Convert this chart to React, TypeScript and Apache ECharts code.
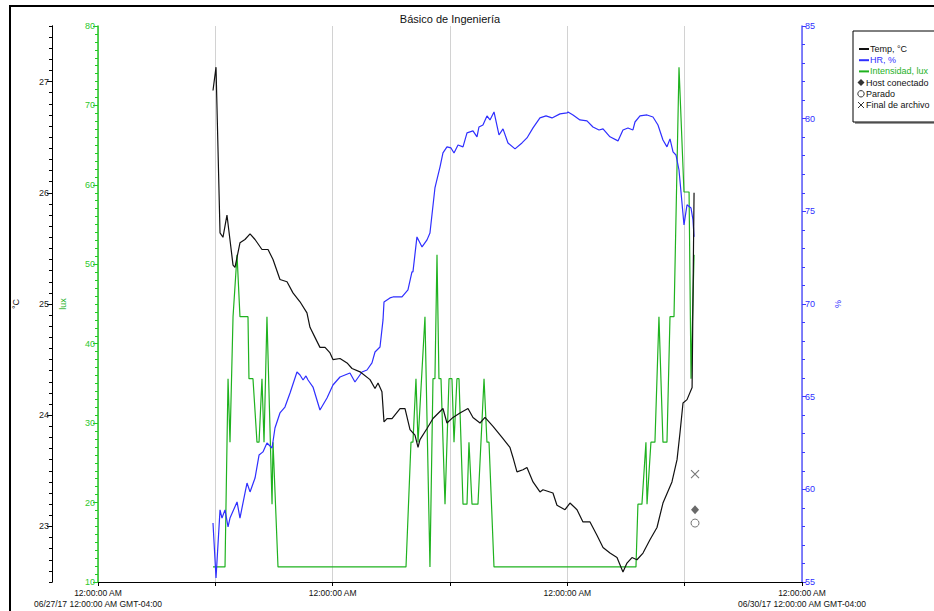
import React, { useEffect, useRef } from 'react';
import * as echarts from 'echarts';

const TITLE = 'Básico de Ingeniería';
const X_TICK_LABEL = '12:00:00 AM';
const X_START_LABEL = '06/27/17 12:00:00 AM GMT-04:00';
const X_END_LABEL = '06/30/17 12:00:00 AM GMT-04:00';
const TEMP_NAME = '°C';
const LUX_NAME = 'lux';
const HR_NAME = '%';

// time: hours since 06/27/17 12:00:00 AM
const tempData: [number, number][] = [
  [11.76, 26.92], [12.07, 27.13], [12.48, 25.64], [12.78, 25.60], [13.19, 25.80], [13.81, 25.35],
  [14.01, 25.33], [14.52, 25.55], [15.03, 25.58], [15.55, 25.63], [16.06, 25.58], [16.77, 25.49],
  [17.39, 25.49], [17.90, 25.40], [18.61, 25.22], [19.33, 25.20], [19.94, 25.10], [20.66, 25.02],
  [21.37, 24.92], [21.68, 24.79], [22.19, 24.70], [22.70, 24.61], [23.22, 24.61], [23.73, 24.56],
  [24.03, 24.50], [24.75, 24.51], [25.47, 24.47], [25.98, 24.42], [26.80, 24.39], [27.82, 24.32],
  [28.33, 24.24], [28.64, 24.29], [29.04, 24.21], [29.25, 23.94], [29.56, 23.97], [30.07, 23.97],
  [30.89, 24.06], [31.40, 24.06], [31.91, 23.87], [32.42, 23.82], [32.73, 23.71], [32.93, 23.78],
  [33.65, 23.88], [34.26, 23.97], [35.28, 24.06], [35.69, 23.93], [36.31, 23.98], [37.02, 24.02],
  [37.84, 24.06], [38.35, 23.98], [39.07, 23.93], [39.58, 23.98], [40.40, 23.90], [41.32, 23.80],
  [42.13, 23.71], [42.44, 23.62], [42.85, 23.49], [43.46, 23.51], [43.87, 23.53], [44.49, 23.40],
  [45.20, 23.31], [45.51, 23.33], [46.53, 23.30], [46.94, 23.19], [47.76, 23.15], [48.27, 23.21],
  [48.99, 23.15], [49.60, 23.04], [50.32, 23.04], [51.03, 22.92], [51.65, 22.81], [52.36, 22.76],
  [53.08, 22.72], [53.69, 22.59], [54.10, 22.67], [54.61, 22.72], [55.12, 22.70], [55.74, 22.76],
  [56.45, 22.88], [57.17, 22.99], [57.78, 23.21], [58.70, 23.40], [59.22, 23.60], [59.52, 23.84],
  [59.83, 24.11], [60.24, 24.14], [60.76, 24.25], [60.85, 25.04], [60.96, 26.00],
];

const hrData: [number, number][] = [
  [11.76, 58.18], [12.07, 55.22], [12.48, 58.89], [12.68, 58.45], [12.99, 58.89], [13.30, 57.97],
  [13.50, 58.45], [14.22, 59.32], [14.52, 58.45], [15.03, 59.80], [15.24, 60.34], [15.55, 59.86],
  [16.06, 60.61], [16.47, 61.85], [16.87, 62.02], [17.28, 62.50], [17.80, 62.23], [18.10, 63.31],
  [18.61, 64.12], [19.12, 64.44], [19.64, 65.20], [20.35, 66.33], [20.66, 66.17], [20.97, 65.90],
  [21.27, 66.12], [21.48, 65.90], [21.99, 65.52], [22.70, 64.28], [23.42, 64.93], [24.03, 65.63],
  [24.75, 66.06], [25.26, 66.17], [25.77, 66.28], [26.28, 65.79], [27.00, 66.33], [27.51, 66.44],
  [28.02, 66.82], [28.33, 67.41], [28.84, 67.68], [29.15, 69.14], [29.25, 70.11], [29.86, 70.33],
  [30.17, 70.38], [31.09, 70.38], [31.70, 70.76], [32.11, 71.73], [32.21, 71.73], [32.62, 73.62],
  [33.14, 73.08], [33.65, 73.46], [33.95, 73.83], [34.46, 76.26], [34.98, 77.40], [35.28, 78.15],
  [35.69, 78.48], [36.10, 78.42], [36.41, 78.15], [36.82, 78.58], [37.33, 78.48], [37.74, 79.23],
  [38.35, 79.34], [38.76, 79.02], [38.96, 79.55], [39.37, 79.66], [39.78, 80.15], [40.09, 79.93],
  [40.50, 80.36], [41.01, 79.12], [41.42, 79.45], [41.93, 78.69], [42.65, 78.37], [43.36, 78.69],
  [43.87, 78.96], [44.49, 79.50], [45.20, 80.04], [45.82, 80.15], [46.43, 80.04], [47.25, 80.26],
  [47.96, 80.31], [48.07, 80.36], [48.58, 80.20], [49.29, 79.93], [50.01, 79.88], [50.62, 79.55],
  [51.24, 79.39], [51.65, 79.45], [52.36, 79.02], [53.18, 78.80], [53.69, 79.39], [54.20, 79.50],
  [54.71, 79.39], [54.92, 79.82], [55.43, 80.15], [56.15, 80.20], [56.76, 80.09], [57.27, 79.66],
  [57.78, 78.85], [58.19, 78.48], [58.50, 78.91], [58.81, 78.21], [59.11, 78.04], [59.42, 77.23],
  [59.93, 74.27], [60.24, 75.35], [60.65, 75.18], [60.85, 74.54], [60.96, 73.62],
];

const luxData: [number, number][] = [
  [11.76, 11.9], [12.99, 11.9], [13.30, 35.6], [13.50, 27.6], [13.81, 43.4], [14.22, 51.2],
  [14.52, 43.4], [15.34, 43.4], [15.44, 35.6], [15.85, 35.6], [16.26, 27.6], [16.47, 27.6],
  [16.77, 35.6], [16.98, 27.6], [17.28, 43.4], [17.80, 19.8], [17.90, 27.6], [18.41, 11.9],
  [31.50, 11.9], [32.01, 27.6], [32.21, 27.6], [32.52, 35.6], [32.73, 27.6], [33.44, 43.4],
  [33.95, 11.9], [34.26, 35.6], [34.46, 35.6], [34.67, 51.2], [34.87, 35.6], [35.08, 35.6],
  [35.49, 19.8], [35.90, 35.6], [36.20, 35.6], [36.41, 27.6], [36.71, 35.6], [36.92, 35.6],
  [37.33, 19.8], [37.74, 19.8], [37.94, 27.6], [38.25, 19.8], [38.86, 19.8], [39.48, 35.6],
  [39.78, 27.6], [39.99, 27.6], [40.50, 11.9], [55.02, 11.9], [55.22, 19.8], [55.63, 19.8],
  [56.04, 27.6], [56.15, 19.8], [56.55, 27.6], [56.96, 27.6], [57.37, 43.4], [57.78, 27.6],
  [58.19, 27.6], [58.50, 43.4], [58.91, 43.4], [59.42, 74.8], [59.93, 59.1], [60.45, 59.1],
  [60.65, 35.6], [60.96, 51.2],
];

const hostConectado: [number, number][] = [[61.06, 23.15]];
const parado: [number, number][] = [[61.06, 23.03]];
const finalArchivo: [number, number][] = [[61.06, 23.47]];

const tempLabelTicks = [23, 24, 25, 26, 27];

const legendNames = ['Temp, °C', 'HR, %', 'Intensidad, lux', 'Host conectado', 'Parado', 'Final de archivo'];

const FONT = '"Liberation Sans", Arial, sans-serif';
const C_TEMP = '#111111';
const C_HR = '#2f2fff';
const C_LUX = '#1fb21f';
const C_MARK = '#555555';

function buildOption() {
  const lx = 853;
  const ly = 31;
  const rowY = (i: number) => 49 + i * 11.2;
  const graphics: any[] = [
    { type: 'rect', silent: true, shape: { x: 10, y: 6, width: 1000, height: 700 }, style: { fill: 'none', stroke: '#000', lineWidth: 2 } },
    { type: 'text', silent: true, style: { text: TITLE, x: 450, y: 19, fill: '#111', fontSize: 11, fontFamily: FONT, align: 'center', verticalAlign: 'middle' } },
    { type: 'rect', silent: true, shape: { x: lx + 2, y: ly + 2, width: 100, height: 91 }, style: { fill: '#9a9a9a' } },
    { type: 'rect', silent: true, shape: { x: lx, y: ly, width: 100, height: 91 }, style: { fill: '#fff', stroke: '#000', lineWidth: 1 } },
  ];
  const lineColors = [C_TEMP, C_HR, C_LUX];
  for (let i = 0; i < 3; i++) {
    graphics.push({ type: 'line', silent: true, shape: { x1: 859, y1: rowY(i), x2: 869, y2: rowY(i) }, style: { stroke: lineColors[i], lineWidth: 2 } });
    graphics.push({ type: 'text', silent: true, style: { text: legendNames[i], x: 870, y: rowY(i), fill: lineColors[i], fontSize: 9, fontFamily: FONT, align: 'left', verticalAlign: 'middle' } });
  }
  const y3 = rowY(3), y4 = rowY(4), y5 = rowY(5);
  graphics.push({ type: 'polygon', silent: true, shape: { points: [[861, y3 - 3.5], [864.5, y3], [861, y3 + 3.5], [857.5, y3]] }, style: { fill: '#333' } });
  graphics.push({ type: 'circle', silent: true, shape: { cx: 861, cy: y4, r: 3.2 }, style: { fill: 'none', stroke: '#333', lineWidth: 1 } });
  graphics.push({ type: 'line', silent: true, shape: { x1: 858, y1: y5 - 3, x2: 864, y2: y5 + 3 }, style: { stroke: '#333', lineWidth: 1 } });
  graphics.push({ type: 'line', silent: true, shape: { x1: 864, y1: y5 - 3, x2: 858, y2: y5 + 3 }, style: { stroke: '#333', lineWidth: 1 } });
  for (let i = 3; i < 6; i++) {
    graphics.push({ type: 'text', silent: true, style: { text: legendNames[i], x: 866, y: rowY(i), fill: '#111', fontSize: 9, fontFamily: FONT, align: 'left', verticalAlign: 'middle' } });
  }

  const nameStyle = (color: string) => ({ color, fontSize: 9, fontFamily: FONT });

  return {
    animation: false,
    backgroundColor: '#ffffff',
    grid: { left: 98, right: 132, top: 26, bottom: 29 },
    xAxis: {
      type: 'value',
      min: 0,
      max: 72,
      interval: 12,
      axisLine: { onZero: false, lineStyle: { color: '#000', width: 1 } },
      axisTick: { length: 4, lineStyle: { color: '#000' } },
      axisLabel: {
        fontSize: 8.5,
        fontFamily: FONT,
        color: '#111',
        lineHeight: 11,
        margin: 5,
        showMinLabel: true,
        showMaxLabel: true,
        formatter: (v: number) => {
          if (Math.abs(v) < 1e-6) return X_TICK_LABEL + '\n' + X_START_LABEL;
          if (Math.abs(v - 72) < 1e-6) return X_TICK_LABEL + '\n' + X_END_LABEL;
          if (Math.abs(v % 24) < 1e-6) return X_TICK_LABEL;
          return '';
        },
      },
      splitLine: { show: true, lineStyle: { color: '#d2d2d2', width: 1 } },
    },
    yAxis: [
      {
        type: 'value', position: 'left', offset: 46, min: 22.5, max: 27.5, interval: 0.1,
        axisLine: { show: true, onZero: false, lineStyle: { color: '#000', width: 1 } },
        axisTick: { show: true, length: 3, lineStyle: { color: '#000' } },
        axisLabel: { show: false },
        splitLine: { show: false },
      },
      {
        type: 'value', position: 'left', offset: 46, min: 22.5, max: 27.5, interval: 0.5,
        name: TEMP_NAME, nameLocation: 'middle', nameGap: 32, nameRotate: 90, nameTextStyle: nameStyle('#111'),
        axisLine: { show: true, onZero: false, lineStyle: { color: '#000', width: 1 } },
        axisTick: { show: true, length: 5, customValues: tempLabelTicks, lineStyle: { color: '#000' } },
        axisLabel: { customValues: tempLabelTicks, fontSize: 9, fontFamily: FONT, color: '#222', margin: 3 },
        splitLine: { show: false },
      },
      {
        type: 'value', position: 'left', offset: 0, min: 10, max: 80, interval: 10,
        name: LUX_NAME, nameLocation: 'middle', nameGap: 31, nameRotate: 90, nameTextStyle: nameStyle(C_LUX),
        axisLine: { show: true, onZero: false, lineStyle: { color: '#22c822', width: 1.5 } },
        axisTick: { show: true, length: 5, lineStyle: { color: '#22c822' } },
        minorTick: { show: true, splitNumber: 10, length: 3, lineStyle: { color: '#22c822' } },
        axisLabel: { fontSize: 9, fontFamily: FONT, color: '#2ec82e', margin: 3 },
        splitLine: { show: false },
        minorSplitLine: { show: false },
      },
      {
        type: 'value', position: 'right', offset: 0, min: 55, max: 85, interval: 5,
        name: HR_NAME, nameLocation: 'middle', nameGap: 31, nameRotate: 90, nameTextStyle: nameStyle(C_HR),
        axisLine: { show: true, onZero: false, lineStyle: { color: '#5a5aff', width: 1.5 } },
        axisTick: { show: true, length: 4, lineStyle: { color: '#3a3aff' } },
        minorTick: { show: true, splitNumber: 5, length: 3, lineStyle: { color: '#3a3aff' } },
        axisLabel: { fontSize: 9, fontFamily: FONT, color: '#2f2fff', margin: 3 },
        splitLine: { show: false },
        minorSplitLine: { show: false },
      },
    ],
    series: [
      {
        name: legendNames[2], type: 'line', yAxisIndex: 2, data: luxData, symbol: 'none', showSymbol: false,
        lineStyle: { color: C_LUX, width: 1.2 }, itemStyle: { color: C_LUX }, z: 3,
      },
      {
        name: legendNames[1], type: 'line', yAxisIndex: 3, data: hrData, symbol: 'none', showSymbol: false,
        lineStyle: { color: C_HR, width: 1.2 }, itemStyle: { color: C_HR }, z: 4,
      },
      {
        name: legendNames[0], type: 'line', yAxisIndex: 0, data: tempData, symbol: 'none', showSymbol: false,
        lineStyle: { color: C_TEMP, width: 1.2 }, itemStyle: { color: C_TEMP }, z: 5,
      },
      {
        name: legendNames[3], type: 'scatter', yAxisIndex: 0, data: hostConectado, symbol: 'diamond', symbolSize: [8, 9],
        itemStyle: { color: '#444' }, z: 6,
      },
      {
        name: legendNames[4], type: 'scatter', yAxisIndex: 0, data: parado, symbol: 'circle', symbolSize: 8,
        itemStyle: { color: '#ffffff', borderColor: C_MARK, borderWidth: 1 }, z: 6,
      },
      {
        name: legendNames[5], type: 'scatter', yAxisIndex: 0, data: finalArchivo, symbol: 'path://M0,0L10,10M10,0L0,10', symbolSize: 8,
        itemStyle: { color: 'transparent', borderColor: C_MARK, borderWidth: 1.1 }, z: 6,
      },
    ],
    graphic: graphics,
  };
}

export default function App() {
  const ref = useRef<HTMLDivElement>(null);
  useEffect(() => {
    if (!ref.current) return;
    const chart = echarts.init(ref.current, null, { renderer: 'svg' });
    chart.setOption(buildOption() as any);
    return () => {
      chart.dispose();
    };
  }, []);
  return (
    <div
      ref={ref}
      style={{ position: 'fixed', left: 0, top: 0, width: 934, height: 611, background: '#fff' }}
    />
  );
}
